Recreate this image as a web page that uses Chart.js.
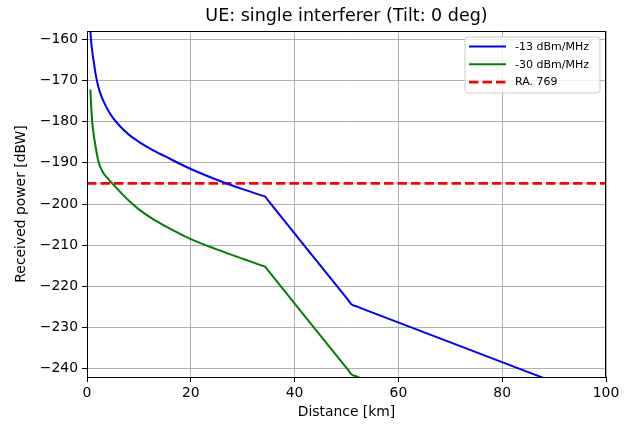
<!DOCTYPE html>
<html>
<head>
<meta charset="utf-8">
<script src="https://cdn.jsdelivr.net/npm/chart.js@4.4.1/dist/chart.umd.min.js"></script>
<style>
  html, body { margin: 0; padding: 0; background: #fff; }
  #wrap { width: 631px; height: 426px; }
</style>
</head>
<body>
<div id="wrap"><canvas id="myChart" width="631" height="426"></canvas></div>
<script>
// values
var titleText = 'UE: single interferer (Tilt: 0 deg)';
var xTicks = [0, 20, 40, 60, 80, 100];
var yTicks = [-160, -170, -180, -190, -200, -210, -220, -230, -240];

var blueDist  = [0.6, 0.8, 1.0, 1.3, 1.6, 1.93, 2.5, 3.2, 4.0, 5.0, 6.5, 8.0, 10, 12.5, 15, 20, 25, 30, 33.6, 34.3, 35, 50.3, 51, 52, 100];
var blueDbw   = [-157, -160.5, -162.8, -165.4, -168, -170.2, -172.9, -175.1, -177.1, -179.1, -181.3, -183.1, -184.9, -186.8, -188.4, -191.5, -194.1, -196.4, -197.9, -198.2, -199.3, -223.3, -224.4, -224.9, -248];

var greenDist = [0.65, 0.8, 1.0, 1.3, 1.7, 2.13, 2.6, 3.2, 4.0, 4.8, 6.5, 8.4, 10, 12.5, 15, 19.8, 25, 30, 33.6, 34.3, 35, 50.3, 51, 52, 100];
var greenDbw  = [-172.2, -176, -180, -183.2, -186.4, -189.3, -191.1, -192.6, -193.8, -194.9, -197.2, -199.6, -201.3, -203.5, -205.3, -208.4, -211, -213.3, -214.9, -215.2, -216.3, -240.3, -241.4, -241.9, -265];

var raDist = [0, 100];
var raDbw  = [-195, -195];

var seriesNames = ['-13 dBm/MHz', '-30 dBm/MHz', 'RA. 769'];
var seriesColors = ['#0000ff', '#008000', '#ff0000'];

function pts(xs, ys) {
  return xs.map(function (x, i) { return { x: x, y: ys[i] }; });
}
function minus(v) { return String(v).replace('-', '\u2212'); }

var font = 'DejaVu Sans';

// title over the plot, frame and in-plot legend like matplotlib
var framePlugin = {
  id: 'frame',
  afterDraw: function (chart) {
    var c = chart.ctx, a = chart.chartArea;
    c.save();
    c.fillStyle = '#000';
    c.font = '17.5px "' + font + '"';
    c.textAlign = 'center';
    c.textBaseline = 'middle';
    c.fillText(titleText, (a.left + a.right) / 2, 16);

    // legend box
    var w = 135, h = 56;
    var lx = a.right - 6 - w, ly = a.top + 6;
    c.beginPath();
    c.roundRect(lx, ly, w, h, 3);
    c.fillStyle = 'rgba(255,255,255,0.8)';
    c.fill();
    c.strokeStyle = '#cccccc';
    c.lineWidth = 1;
    c.stroke();
    c.font = '11px "' + font + '"';
    c.textAlign = 'left';
    for (var i = 0; i < seriesNames.length; i++) {
      var yy = ly + 9.5 + i * 17.8;
      c.beginPath();
      c.strokeStyle = seriesColors[i];
      c.lineWidth = i == 2 ? 2.6 : 2;
      c.setLineDash(i == 2 ? [9.5, 4] : []);
      c.moveTo(lx + 4, yy);
      c.lineTo(lx + 41, yy);
      c.stroke();
      c.setLineDash([]);
      c.fillStyle = '#000';
      c.fillText(seriesNames[i], lx + 50, yy + 0.5);
    }
    // axes frame
    c.strokeStyle = '#000';
    c.lineWidth = 1;
    c.strokeRect(Math.round(a.left) + 0.5, Math.round(a.top) + 0.5,
                 Math.round(a.right - a.left) - 1, Math.round(a.bottom - a.top));
    c.restore();
  }
};

var ctx = document.getElementById('myChart');
var chart = new Chart(ctx, {
  type: 'line',
  data: {
    datasets: [{
      label: seriesNames[0],
      data: pts(blueDist, blueDbw),
      borderColor: seriesColors[0],
      borderWidth: 2,
      pointRadius: 0,
      cubicInterpolationMode: 'monotone',
      clip: 0
    }, {
      label: seriesNames[1],
      data: pts(greenDist, greenDbw),
      borderColor: seriesColors[1],
      borderWidth: 2,
      pointRadius: 0,
      cubicInterpolationMode: 'monotone',
      clip: 0
    }, {
      label: seriesNames[2],
      data: pts(raDist, raDbw),
      borderColor: seriesColors[2],
      borderWidth: 2.6,
      borderDash: [9.5, 4],
      pointRadius: 0,
      tension: 0,
      clip: 0
    }]
  },
  options: {
    responsive: false,
    animation: false,
    events: [],
    layout: { padding: { left: 0, right: 25, top: 31, bottom: 0 } },
    plugins: {
      legend: { display: false },
      tooltip: { enabled: false },
      title: { display: false }
    },
    scales: {
      x: {
        type: 'linear',
        min: 0,
        max: 100,
        afterFit: function (s) { s.height = 49; },
        afterBuildTicks: function (s) { s.ticks = xTicks.map(function (v) { return { value: v }; }); },
        grid: { color: '#b0b0b0', lineWidth: 1, tickColor: '#000', tickLength: 5 },
        border: { display: false },
        ticks: {
          color: '#000',
          padding: 3,
          maxRotation: 0,
          font: { family: font, size: 13.9 },
          callback: function (v) { return minus(v); }
        },
        title: {
          display: true,
          text: 'Distance [km]',
          color: '#000',
          font: { family: font, size: 13.9 },
          padding: { top: 2, bottom: 5 }
        }
      },
      y: {
        type: 'linear',
        min: -242,
        max: -158,
        afterFit: function (s) { s.width = 87; },
        afterBuildTicks: function (s) { s.ticks = yTicks.map(function (v) { return { value: v }; }); },
        grid: { color: '#b0b0b0', lineWidth: 1, tickColor: '#000', tickLength: 5 },
        border: { display: false },
        ticks: {
          color: '#000',
          padding: 4,
          font: { family: font, size: 13.9 },
          callback: function (v) { return minus(v); }
        },
        title: {
          display: true,
          text: 'Received power [dBW]',
          color: '#000',
          font: { family: font, size: 13.9 },
          padding: { top: 13, bottom: 0 }
        }
      }
    }
  },
  plugins: [framePlugin]
});
</script>
</body>
</html>
